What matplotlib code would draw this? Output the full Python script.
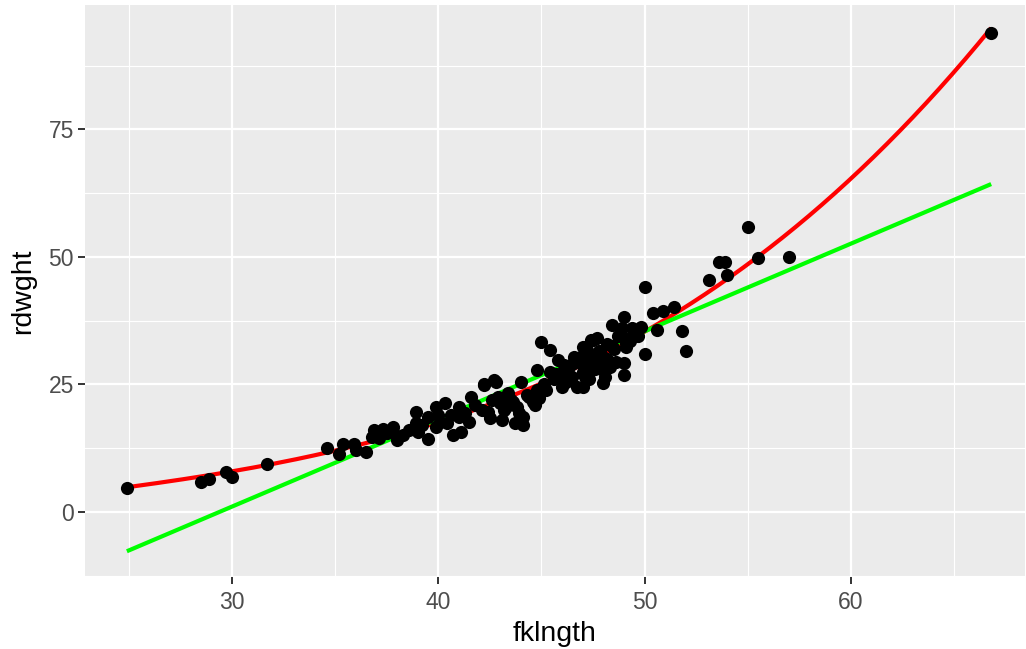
import numpy as np
import matplotlib
matplotlib.use("Agg")
import matplotlib.pyplot as plt

# fklngth / rdwght points
fklngth = [24.9, 28.5, 28.9, 29.7, 30.0, 31.7, 34.6, 35.2, 35.4, 35.9, 36.0, 36.5,
           36.9, 36.8, 37.1, 37.3, 37.8, 37.8, 38.0, 38.3, 38.9, 38.9, 39.0, 39.5,
           39.5, 39.9, 40.3, 39.9, 40.1, 40.4, 40.7, 41.0, 41.0, 41.1, 41.5, 41.6,
           42.2, 42.8, 42.1, 42.5, 43.0, 43.1, 43.4, 43.7, 45.0, 45.4, 45.8, 46.1,
           45.4, 44.8, 46.0, 46.7, 47.0, 46.6, 47.0, 47.4, 47.7, 48.0, 48.0, 48.4,
           49.0, 48.9, 49.1, 49.0, 49.0, 49.4, 42.2, 42.7, 44.0, 44.8, 44.9, 44.1,
           44.1, 42.4, 50.0, 53.1, 50.4, 50.9, 51.4, 50.6, 51.8, 52.0, 50.0, 49.8,
           49.5, 49.1, 47.5, 47.2, 46.9, 48.0, 48.0, 55.0, 53.6, 53.9, 54.0, 55.5,
           57.0, 66.8,
           43.5, 43.8, 44.3, 44.6, 45.2, 45.6, 46.3, 46.5, 47.3, 47.6, 47.9, 48.2,
           48.5, 48.7, 47.1, 46.8, 45.9, 45.1, 44.4, 43.2, 42.9, 41.8, 41.3, 40.6,
           40.0, 39.2, 38.6, 37.5, 37.0, 43.9, 44.7, 46.2, 47.8, 48.3, 49.2, 49.7,
           47.2, 47.5, 47.8, 48.2, 48.4, 47.0, 46.5, 46.3, 47.6, 48.6, 49.3, 48.8,
           46.9, 45.7, 47.3, 48.1, 43.3, 42.6, 43.6]
rdwght = [4.7, 5.9, 6.5, 7.8, 6.9, 9.4, 12.5, 11.4, 13.3, 13.3, 12.2, 11.8,
          16.1, 14.7, 14.5, 16.3, 16.7, 15.7, 14.1, 15.1, 19.6, 17.5, 15.7, 14.3,
          18.6, 20.6, 21.4, 16.7, 17.6, 17.5, 15.1, 20.6, 18.6, 15.7, 17.6, 22.5,
          25.1, 25.5, 20.0, 18.4, 21.4, 18.0, 23.3, 17.5, 33.3, 31.8, 29.8, 28.8,
          27.5, 27.8, 24.5, 24.5, 24.5, 30.4, 32.4, 33.7, 34.1, 28.4, 25.3, 36.7,
          38.2, 36.1, 32.4, 29.2, 26.9, 36.1, 24.9, 25.9, 25.5, 23.9, 22.4, 18.6,
          17.1, 19.6, 44.1, 45.5, 39.0, 39.4, 40.2, 35.7, 35.5, 31.6, 31.0, 36.3,
          35.7, 33.1, 33.7, 31.8, 30.4, 29.8, 27.8, 55.9, 49.0, 49.0, 46.5, 49.8,
          50.0, 93.9,
          22.0, 20.5, 23.0, 21.5, 24.0, 26.0, 27.0, 29.0, 28.0, 30.5, 31.0, 33.0,
          32.0, 34.5, 26.5, 29.5, 27.0, 25.0, 22.5, 20.0, 22.5, 21.0, 19.5, 19.0,
          19.0, 17.0, 16.0, 15.5, 15.0, 19.5, 21.0, 25.5, 30.0, 28.5, 34.0, 34.5,
          29.0, 30.5, 31.5, 30.0, 32.5, 27.5, 26.5, 28.0, 28.0, 29.5, 33.5, 34.8,
          29.2, 27.0, 26.0, 26.5, 20.5, 22.0, 21.5]

x = np.array(fklngth)
y = np.array(rdwght)
xs = np.linspace(x.min(), x.max(), 200)
lin = np.polyval(np.polyfit(x, y, 1), xs)
cub = np.polyval(np.polyfit(x, y, 3), xs)

plt.rcParams['font.family'] = ['Liberation Sans', 'DejaVu Sans']
fig = plt.figure(figsize=(10.26, 6.49), dpi=100)
ax = fig.add_axes([85/1026, 72/649, 940/1026, 572/649])
ax.set_facecolor('#EBEBEB')

ax.plot(xs, cub, color='#FF0000', lw=3.0, zorder=3, solid_capstyle='butt')
ax.plot(xs, lin, color='#00FF00', lw=3.0, zorder=3, solid_capstyle='butt')
ax.scatter(x, y, s=90, color='black', linewidths=0, zorder=4)

ax.set_xlim(22.87, 68.44)
ax.set_ylim(-12.75, 99.4)
ax.set_xticks([30, 40, 50, 60])
ax.set_yticks([0, 25, 50, 75])
ax.set_xticks([25, 35, 45, 55, 65], minor=True)
ax.set_yticks([-12.5, 12.5, 37.5, 62.5, 87.5], minor=True)
ax.grid(which='major', color='white', lw=1.6, zorder=0)
ax.grid(which='minor', color='white', lw=0.8, zorder=0)
ax.set_axisbelow(True)
for s in ax.spines.values():
    s.set_visible(False)
ax.tick_params(which='major', length=5, width=1.4, color='#333333', labelcolor='#4D4D4D', labelsize=16.5, pad=3)
ax.tick_params(axis='x', which='major', pad=5)
ax.tick_params(which='minor', length=0)
ax.set_xlabel('fklngth', fontsize=20.5, labelpad=5)
ax.set_ylabel('rdwght', fontsize=20.5, labelpad=9)

fig.savefig('out.png', dpi=100)
